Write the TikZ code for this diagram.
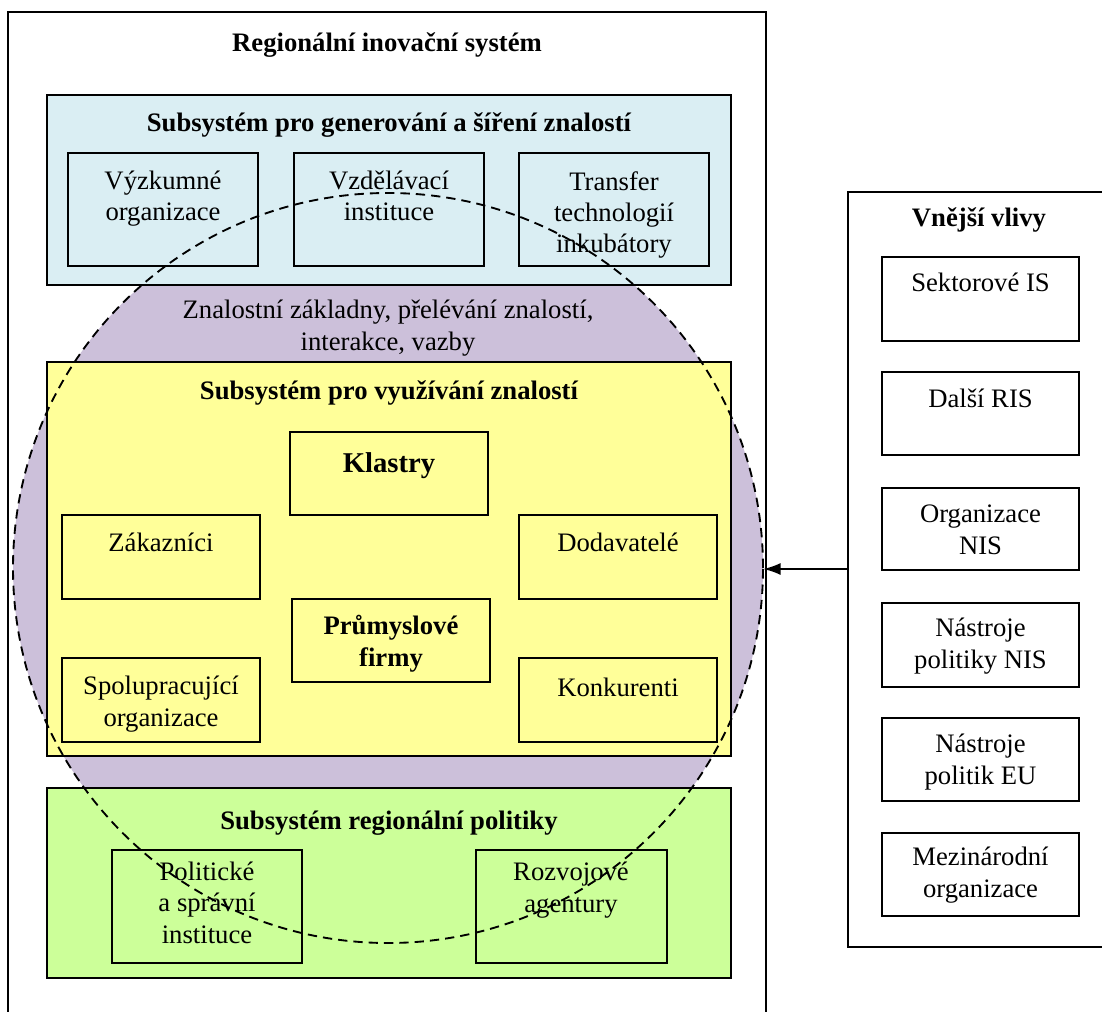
\documentclass[tikz,border=0pt]{standalone}
\usepackage{fontspec}
\setmainfont{Liberation Serif}
\usetikzlibrary{fit,arrows.meta}
\definecolor{cblue}{HTML}{DAEEF3}
\definecolor{cpurple}{HTML}{CCC0DA}
\definecolor{cyellow}{HTML}{FFFF99}
\definecolor{cgreen}{HTML}{CCFF99}
\begin{document}
\begin{tikzpicture}[x=0.75pt,y=-0.75pt,
  box/.style={draw=black, line width=1.3pt, inner sep=0pt},
  lbl/.style={font=\fontsize{20}{23.5}\selectfont, align=center, anchor=base, inner sep=0pt},
  ttl/.style={lbl, font=\fontsize{20}{23.5}\selectfont\bfseries},
  big/.style={lbl, font=\fontsize{21.5}{25}\selectfont\bfseries},
  ring/.style={dash pattern=on 7pt off 4.5pt, line width=1.4pt}]
\useasboundingbox (0,0) rectangle (1102,1012);
% outer system box
\node[box, fit={(8,12) (766,1040)}] (ris) {};
\node[ttl] (tris) at (387,52) {Regionální inovační systém};
% circle fill
\node[circle, fill=cpurple, inner sep=0pt, minimum size=562.5pt] (circ) at (388,568) {};
% knowledge generation subsystem
\node[box, fill=cblue, fit={(47,95) (731,285)}] (gen) {};
\node[ttl] (tgen) at (389,132) {Subsystém pro generování a šíření znalostí};
\node[box, fit={(68,153) (258,266)}] (vyz) {};
\node[lbl] (tvyz) at (163,221) {Výzkumné\\organizace};
\node[box, fit={(294,153) (484,266)}] (vzd) {};
\node[lbl] (tvzd) at (389,221) {Vzdělávací\\instituce};
\node[box, fit={(519,153) (709,266)}] (tra) {};
\node[lbl] (ttra) at (614,253) {Transfer\\technologií\\inkubátory};
% purple text
\node[lbl] (tkno) at (388,350) {Znalostní základny, přelévání znalostí,\\interakce, vazby};
% knowledge exploitation subsystem
\node[box, fill=cyellow, fit={(47,362) (731,756)}] (exp) {};
\node[ttl] (texp) at (389,399) {Subsystém pro využívání znalostí};
\node[box, fit={(290,432) (488,515)}] (kla) {};
\node[big] (tkla) at (389,472) {Klastry};
\node[box, fit={(62,515) (260,599)}] (zak) {};
\node[lbl] (tzak) at (161,551) {Zákazníci};
\node[box, fit={(519,515) (717,599)}] (dod) {};
\node[lbl] (tdod) at (618,551) {Dodavatelé};
\node[box, fit={(292,599) (490,682)}] (pru) {};
\node[ttl] (tpru) at (391,666) {Průmyslové\\firmy};
\node[box, fit={(62,658) (260,742)}] (spo) {};
\node[lbl] (tspo) at (161,726) {Spolupracující\\organizace};
\node[box, fit={(519,658) (717,742)}] (kon) {};
\node[lbl] (tkon) at (618,696) {Konkurenti};
% regional policy subsystem
\node[box, fill=cgreen, fit={(47,788) (731,978)}] (pol) {};
\node[ttl] (tpol) at (389,829) {Subsystém regionální politiky};
\node[box, fit={(112,850) (302,963)}] (spr) {};
\node[lbl] (tspr) at (207,943) {Politické\\a správní\\instituce};
\node[box, fit={(476,850) (667,963)}] (roz) {};
\node[lbl] (troz) at (571,912) {Rozvojové\\agentury};
% dashed circle outline on top
\draw[ring] (circ.center) circle[radius=281.25pt];
% external influences
\node[box, fit={(848,192) (1120,947)}] (ext) {};
\node[ttl] (text) at (979,227) {Vnější vlivy};
\node[box, fit={(882,257) (1079,341)}] (sek) {};
\node[lbl] (tsek) at (980.5,292) {Sektorové IS};
\node[box, fit={(882,372) (1079,455)}] (dal) {};
\node[lbl] (tdal) at (980.5,407) {Další RIS};
\node[box, fit={(882,488) (1079,570)}] (org) {};
\node[lbl] (torg) at (980.5,554) {Organizace\\NIS};
\node[box, fit={(882,603) (1079,687)}] (nas) {};
\node[lbl] (tnas) at (980.5,668) {Nástroje\\politiky NIS};
\node[box, fit={(882,718) (1079,801)}] (eu) {};
\node[lbl] (teu) at (980.5,784) {Nástroje\\politik EU};
\node[box, fit={(882,833) (1079,916)}] (mez) {};
\node[lbl] (tmez) at (980.5,897) {Mezinárodní\\organizace};
% arrow
\coordinate (aend) at (circ.east |- 0,569);
\coordinate (astart) at (848,569);
\draw[line width=1.3pt, -{Latex[length=13pt,width=9pt]}] (astart) -- (aend);
\end{tikzpicture}
\end{document}
